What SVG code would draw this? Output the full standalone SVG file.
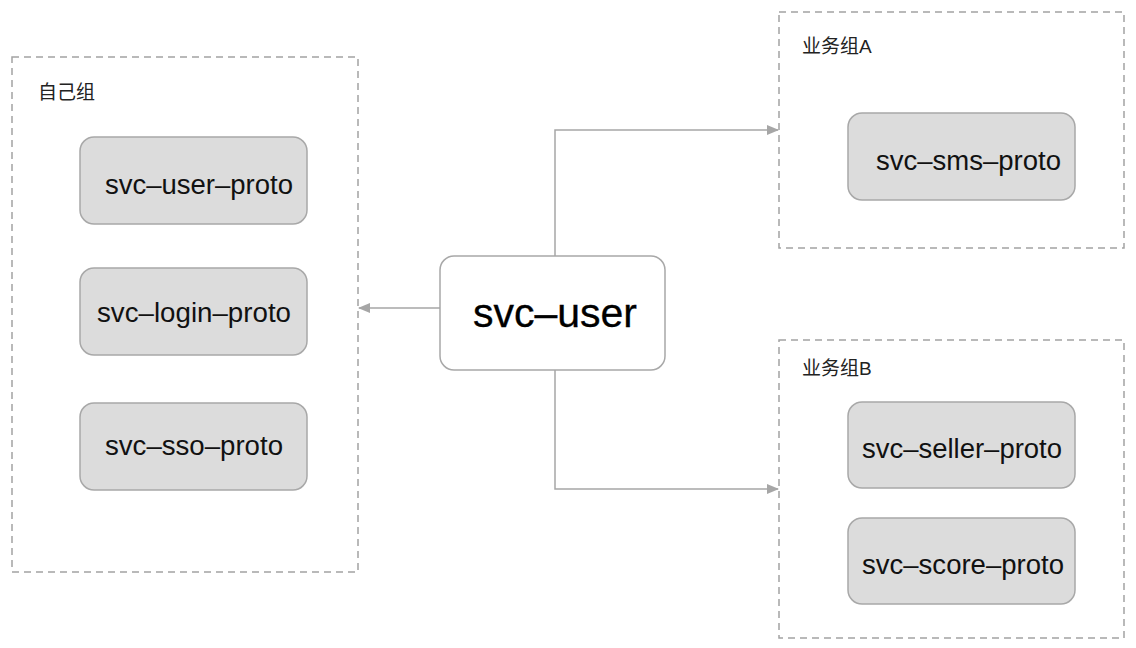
<svg xmlns="http://www.w3.org/2000/svg" width="1136" height="648" viewBox="0 0 1136 648">
<style>
.grp{fill:none;stroke:#a3a3a3;stroke-width:1.5;stroke-dasharray:7 5}
.box{fill:#dcdcdc;stroke:#a8a8a8;stroke-width:1.5}
.main{fill:#ffffff;stroke:#a8a8a8;stroke-width:1.5}
.lbl{font-family:"Liberation Sans","Noto Sans CJK SC",sans-serif;font-size:19px;fill:#222}
.t{font-family:"Liberation Sans","Noto Sans CJK SC",sans-serif;font-size:27px;fill:#111}
.big{font-family:"Liberation Sans","Noto Sans CJK SC",sans-serif;font-size:40px;fill:#000;stroke:#000;stroke-width:0.3}
.con{fill:none;stroke:#a6a6a6;stroke-width:1.5}
</style>
<defs>
<marker id="ah" markerWidth="12" markerHeight="10" refX="11" refY="5" orient="auto" markerUnits="userSpaceOnUse">
<path d="M0,0 L12,5 L0,10 Z" fill="#a6a6a6"/>
</marker>
</defs>
<rect width="1136" height="648" fill="#ffffff"/>
<g id="group-self">
<rect class="grp" x="12" y="57" width="346" height="515"/>
<text class="lbl" x="38" y="99">自己组</text>
</g>
<g id="svc-user-proto">
<rect class="box" x="80" y="137" width="227" height="87" rx="14"/>
<text class="t" x="105" y="194" textLength="188" lengthAdjust="spacingAndGlyphs">svc–user–proto</text>
</g>
<g id="svc-login-proto">
<rect class="box" x="80" y="268" width="227" height="87" rx="14"/>
<text class="t" x="97" y="322" textLength="194" lengthAdjust="spacingAndGlyphs">svc–login–proto</text>
</g>
<g id="svc-sso-proto">
<rect class="box" x="80" y="403" width="227" height="87" rx="14"/>
<text class="t" x="105" y="455" textLength="178" lengthAdjust="spacingAndGlyphs">svc–sso–proto</text>
</g>
<g id="group-a">
<rect class="grp" x="779" y="12" width="345" height="236"/>
<text class="lbl" x="802" y="53">业务组A</text>
</g>
<g id="svc-sms-proto">
<rect class="box" x="848" y="113" width="227" height="87" rx="14"/>
<text class="t" x="876" y="170" textLength="185" lengthAdjust="spacingAndGlyphs">svc–sms–proto</text>
</g>
<g id="group-b">
<rect class="grp" x="779" y="340" width="345" height="298"/>
<text class="lbl" x="802" y="375">业务组B</text>
</g>
<g id="svc-seller-proto">
<rect class="box" x="848" y="402" width="227" height="86" rx="14"/>
<text class="t" x="862" y="458" textLength="200" lengthAdjust="spacingAndGlyphs">svc–seller–proto</text>
</g>
<g id="svc-score-proto">
<rect class="box" x="848" y="518" width="227" height="86" rx="14"/>
<text class="t" x="862" y="574" textLength="202" lengthAdjust="spacingAndGlyphs">svc–score–proto</text>
</g>
<g id="svc-user">
<rect class="main" x="440" y="256" width="225" height="114" rx="14"/>
<text class="big" x="473" y="327" textLength="164" lengthAdjust="spacingAndGlyphs">svc–user</text>
</g>
<g id="connectors">
<path class="con" d="M440,308 L359,308" marker-end="url(#ah)"/>
<path class="con" d="M555,256 L555,130 L778,130" marker-end="url(#ah)"/>
<path class="con" d="M555,370 L555,489 L778,489" marker-end="url(#ah)"/>
</g>
</svg>
